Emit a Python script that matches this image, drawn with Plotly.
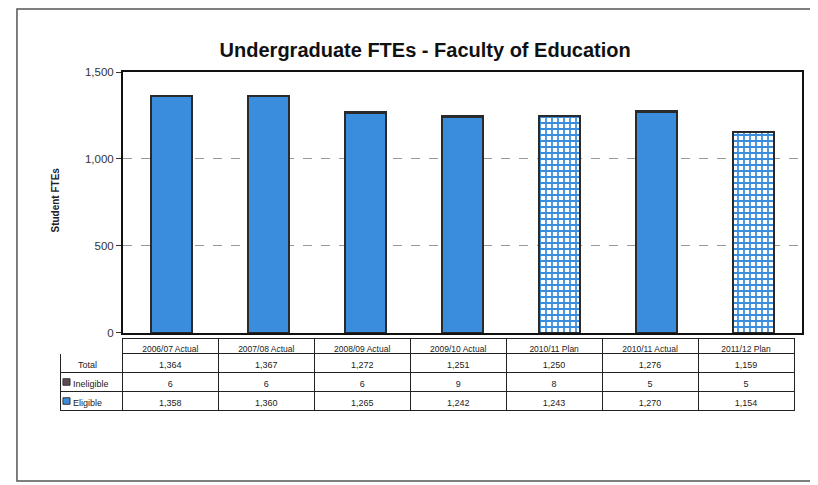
import plotly.graph_objects as go

categories = ['2006/07 Actual', '2007/08 Actual', '2008/09 Actual', '2009/10 Actual',
              '2010/11 Plan', '2010/11 Actual', '2011/12 Plan']
eligible = [1358, 1360, 1265, 1242, 1243, 1270, 1154]
ineligible = [6, 6, 6, 9, 8, 5, 5]
total = [1364, 1367, 1272, 1251, 1250, 1276, 1159]
is_plan = [False, False, False, False, True, False, True]

blue = '#3a8ddc'
dark = '#5e4a55'

shapes = ['+' if p else '' for p in is_plan]

fig = go.Figure()
fig.add_trace(go.Bar(
    x=categories, y=eligible, name='Eligible', width=0.42,
    marker=dict(color=blue, line=dict(color='#2a2a2a', width=1.5),
                pattern=dict(shape=shapes, fgcolor=[blue] * 7, bgcolor=['white'] * 7,
                             fillmode='replace', size=6, solidity=0.5)),
    showlegend=False))
fig.add_trace(go.Bar(
    x=categories, y=ineligible, name='Ineligible', width=0.42,
    marker=dict(color=dark, line=dict(color='#2a2a2a', width=1.5)),
    showlegend=False))

fmt = lambda v: f'{v:,}'
row_labels = ['\u00a0' * 4 + 'Total', '\u00a0\u00a0Ineligible', '\u00a0\u00a0Eligible']
cols = [row_labels] + [[fmt(t), fmt(i), fmt(e)] for t, i, e in zip(total, ineligible, eligible)]

fig.add_trace(go.Table(
    domain=dict(x=[0, 0.99], y=[0, 0.222]),
    columnwidth=[63] + [97] * len(categories),
    header=dict(values=[''] + categories, height=15,
                line=dict(color=['white'] + ['#222'] * len(categories), width=1),
                fill=dict(color='white'), align='center',
                font=dict(family='Liberation Sans', size=8.5, color='#222')),
    cells=dict(values=cols, height=19,
               line=dict(color='#222', width=1), fill=dict(color='white'),
               align=['left'] + ['center'] * len(categories),
               font=dict(family='Liberation Sans', size=9, color='#222'))))

# legend keys inside the table's row-label column
keys = []
for yc, col in [(0.0936, dark), (0.038, blue)]:
    keys.append(dict(type='rect', xref='paper', yref='paper', x0=0.004, x1=0.0135,
                     y0=yc - 0.0095, y1=yc + 0.0095, fillcolor=col,
                     line=dict(color='#333', width=1)))

fig.update_layout(
    width=818, height=485, barmode='stack', bargap=0.58,
    paper_bgcolor='white', plot_bgcolor='white',
    margin=dict(l=52, r=24, t=64, b=79),
    font=dict(family='Liberation Sans', color='#222'),
    title=dict(text='<b>Undergraduate FTEs - Faculty of Education</b>',
               x=0.51, xanchor='center', y=0.913, yanchor='middle',
               font=dict(size=20, color='#111')),
    xaxis=dict(domain=[0.0849, 1], showticklabels=False, showline=True,
               linecolor='#111', linewidth=2, mirror=True, ticks=''),
    yaxis=dict(domain=[0.237, 1], range=[0, 1500], tickvals=[0, 500, 1000, 1500],
               ticktext=['0', '500', '1,000', '1,500'], showline=True,
               linecolor='#111', linewidth=2, mirror=True, ticks='outside',
               ticklen=5, tickcolor='#333', tickfont=dict(size=11.5, color='#333'),
               showgrid=True, gridcolor='#999', griddash='dash', gridwidth=1,
               zeroline=False),
    annotations=[dict(text='<b>Student FTEs</b>', x=-0.016, y=0.626, xref='paper',
                      yref='paper', textangle=-90, showarrow=False,
                      font=dict(size=10, color='#222'))],
    shapes=[dict(type='rect', xref='paper', yref='paper', x0=-0.058, x1=1.05,
                 y0=-0.196, y1=1.184, line=dict(color='#555', width=1.5))] + keys,
)

fig.write_html('out.html')
